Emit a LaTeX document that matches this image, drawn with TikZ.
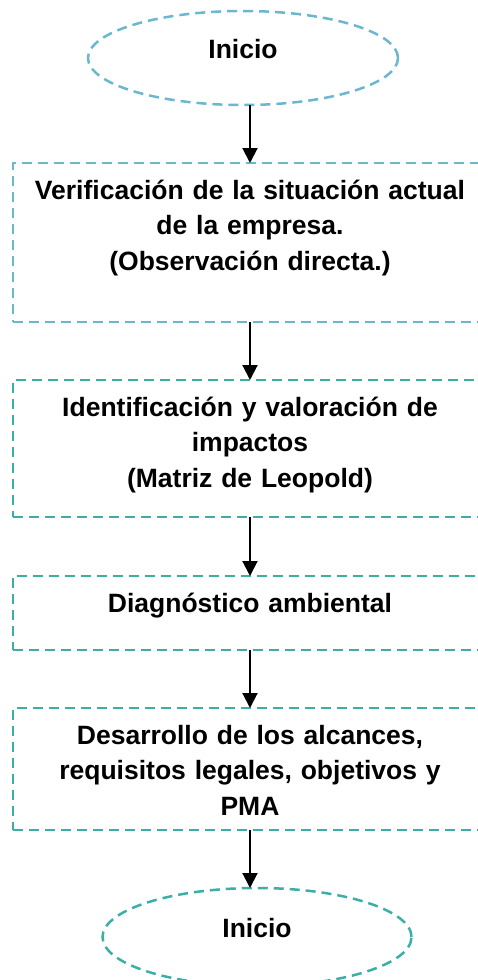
\documentclass[tikz,border=0pt]{standalone}
\usepackage{fontspec}
\setmainfont{Liberation Sans}
\usepackage{tikz}
\usetikzlibrary{shapes.geometric, arrows.meta, positioning}
\usepackage{xcolor}
\definecolor{flowblue}{HTML}{6BB7CE}
\definecolor{flowteal}{HTML}{3BAFA6}

\begin{document}
\begin{tikzpicture}[
      node distance=58pt,
      every node/.style={font=\bfseries\fontsize{26.5}{35.5}\selectfont, outer sep=0pt},
      terminal/.style={ellipse, dash pattern=on 10pt off 6pt, line width=2.5pt, inner sep=0pt, text height=12pt, text depth=12pt},
      stepbox/.style={rectangle, dash pattern=on 10pt off 6pt, line width=2.5pt, text width=440pt, inner xsep=17pt, inner ysep=0pt, align=center, text height=36pt},
      arrow/.style={-{Triangle[length=15pt, width=15pt]}, line width=2pt, black}
    ]
    \useasboundingbox (0,0) rectangle (478pt,-980pt);
    \clip (0,0) rectangle (478pt,-980pt);

    % Nodes
    \node[terminal, draw=flowblue, minimum width=310pt, minimum height=94pt] (inicio) at (243pt,-58pt) {Inicio};

    \node[stepbox, draw=flowblue, text depth=123pt, below=of inicio, xshift=7pt] (verif) {Verificación de la situación actual\\ de la empresa.\\ (Observación directa.)};

    \node[stepbox, draw=flowteal, text depth=101pt, below=of verif] (ident) {Identificación y valoración de\\ impactos\\ (Matriz de Leopold)};

    \node[stepbox, draw=flowteal, text depth=38pt, below=59pt of ident] (diag) {Diagnóstico ambiental};

    \node[stepbox, draw=flowteal, text depth=86pt, below=of diag] (desarrollo) {Desarrollo de los alcances,\\ requisitos legales, objetivos y\\ PMA};

    \node[terminal, draw=flowteal, minimum width=309pt, minimum height=98pt, below=of desarrollo, xshift=7pt] (fin) {Inicio};

    % Arrows
    \draw[arrow] (inicio.south -| verif.north) -- (verif.north);
    \draw[arrow] (verif.south) -- (ident.north);
    \draw[arrow] (ident.south) -- (diag.north);
    \draw[arrow] (diag.south) -- (desarrollo.north);
    \draw[arrow] (desarrollo.south) -- (desarrollo.south |- fin.north);

\end{tikzpicture}
\end{document}
